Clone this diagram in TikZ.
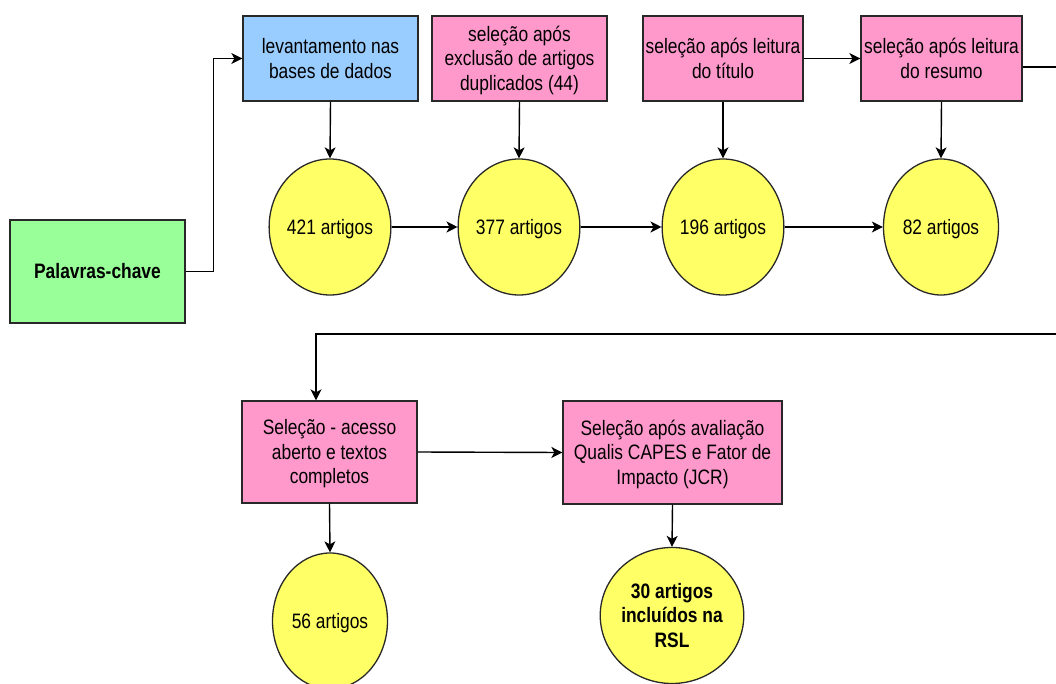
\documentclass[tikz,border=0pt]{standalone}
\usepackage{fontspec}
\usepackage{graphicx}
\setmainfont{Liberation Sans}
\usetikzlibrary{arrows.meta,shapes.geometric}
\definecolor{cgreen}{RGB}{153,255,153}
\definecolor{cblue}{RGB}{153,204,255}
\definecolor{cpink}{RGB}{255,153,204}
\definecolor{cyellow}{RGB}{255,255,102}
\definecolor{cborder}{RGB}{40,40,40}
\newcommand{\txt}[1]{\raisebox{-2.5pt}[\height][\depth]{\scalebox{1}[1.2]{\begin{tabular}{@{}c@{}}#1\end{tabular}}}}
\begin{document}
\begin{tikzpicture}[x=1pt,y=-1pt,
  every node/.style={font=\fontsize{17.4}{20.4}\selectfont, align=center, inner sep=0pt},
  box/.style={rectangle, draw=cborder, line width=1.3pt},
  oval/.style={ellipse, draw=cborder, line width=1.3pt, fill=cyellow, minimum width=115pt, minimum height=136pt},
  arr/.style={line width=1.4pt, -{Stealth[length=11pt,width=11pt,inset=3pt]}},
  ln/.style={line width=1.4pt}]
\useasboundingbox (0,0) rectangle (1056,684);
\clip (0,0) rectangle (1056,684);
\fill[white] (0,0) rectangle (1056,684);

% boxes
\node[box, fill=cgreen, minimum width=175pt, minimum height=103pt] (pal) at (97.5,271.5) {\txt{\bfseries Palavras-chave}};
\node[box, fill=cblue, minimum width=175pt, minimum height=85pt] (lev) at (330.5,58.5) {\txt{levantamento nas\\bases de dados}};
\node[box, fill=cpink, minimum width=175pt, minimum height=85pt] (dup) at (519.5,58.5) {\txt{seleção após\\exclusão de artigos\\duplicados (44)}};
\node[box, fill=cpink, minimum width=160pt, minimum height=85pt] (tit) at (723,58.5) {\txt{seleção após leitura\\do título}};
\node[box, fill=cpink, minimum width=161pt, minimum height=85pt] (res) at (941.5,58.5) {\txt{seleção após leitura\\do resumo}};
\node[box, fill=cpink, minimum width=175pt, minimum height=102pt] (ace) at (329.5,452) {\txt{Seleção - acesso\\aberto e textos\\completos}};
\node[box, fill=cpink, minimum width=219pt, minimum height=103pt] (qua) at (672.5,452.5) {\txt{Seleção após avaliação\\Qualis CAPES e Fator de\\Impacto (JCR)}};

% ellipses
\node[oval] (e421) at (330,227) {\txt{421 artigos}};
\node[oval] (e377) at (519,227) {\txt{377 artigos}};
\node[oval] (e196) at (723,227) {\txt{196 artigos}};
\node[oval] (e82) at (941,227) {\txt{82 artigos}};
\node[oval] (e56) at (330,621) {\txt{56 artigos}};
\node[oval] (e30) at (672,615.5) {\txt{\bfseries 30 artigos\\\bfseries incluídos na\\\bfseries RSL}};

% coordinates
\coordinate (r1) at (1056,67);
\coordinate (r2) at (1056,334);
\coordinate (k) at (316,334);

% connectors
\draw[arr] (pal.east) -- ++(28,0) |- (lev.west);
\draw[arr] (lev.south) -- (e421.north);
\draw[arr] (dup.south) -- (e377.north);
\draw[arr] (tit.south) -- (e196.north);
\draw[arr] (res.south) -- (e82.north);
\draw[arr] (e421.east) -- (e377.west);
\draw[arr] (e377.east) -- (e196.west);
\draw[arr] (e196.east) -- (e82.west);
\draw[arr] (tit.east) -- (res.west);
\draw[ln] (res.east |- r1) -- (r1);
\draw[arr] (r2) -- (k) -- (k |- ace.north);
\draw[arr] (ace.east) -- (qua.west);
\draw[arr] (ace.south) -- (e56.north);
\draw[arr] (qua.south) -- (e30.north);
\end{tikzpicture}
\end{document}
